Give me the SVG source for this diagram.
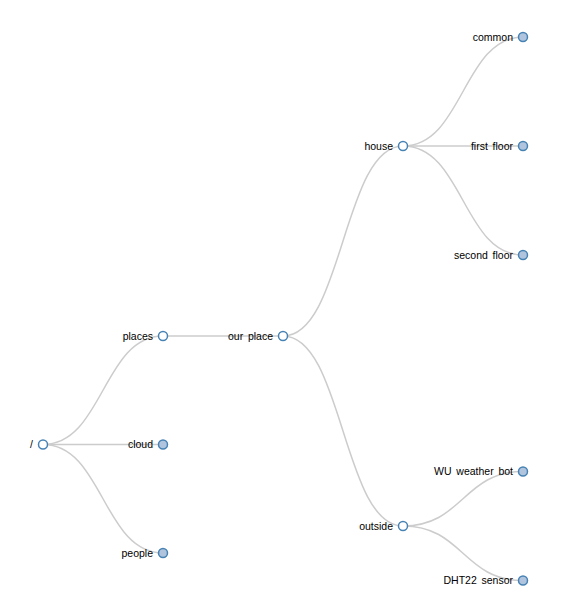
<svg xmlns="http://www.w3.org/2000/svg" width="563" height="599" viewBox="0 0 563 599">
<style>
.link{fill:none;stroke:#ccc;stroke-width:1.5}
.node circle{stroke:steelblue;stroke-width:1.5;fill:#fff}
.node.leaf circle{fill:lightsteelblue}
.node text{font-family:"Liberation Sans",Arial,sans-serif;font-size:10.5px;word-spacing:1.8px;fill:#000;text-anchor:end}
</style>
<rect width="563" height="599" fill="#fff"/>
<g id="links">
<path class="link" d="M43,444.5C103,444.5 103,336 163,336"/>
<path class="link" d="M43,444.5C103,444.5 103,444.5 163,444.5"/>
<path class="link" d="M43,444.5C103,444.5 103,553 163,553"/>
<path class="link" d="M163,336C223,336 223,336 283,336"/>
<path class="link" d="M283,336C343,336 343,146 403,146"/>
<path class="link" d="M283,336C343,336 343,526 403,526"/>
<path class="link" d="M403,146C463,146 463,37 523,37"/>
<path class="link" d="M403,146C463,146 463,146 523,146"/>
<path class="link" d="M403,146C463,146 463,255 523,255"/>
<path class="link" d="M403,526C463,526 463,471.5 523,471.5"/>
<path class="link" d="M403,526C463,526 463,580.5 523,580.5"/>
</g>
<g id="root" class="node" transform="translate(43,444.5)"><circle r="4.5"/><text x="-10" dy=".35em">/</text></g>
<g id="places" class="node" transform="translate(163,336)"><circle r="4.5"/><text x="-10" dy=".35em">places</text></g>
<g id="cloud" class="node leaf" transform="translate(163,444.5)"><circle r="4.5"/><text x="-10" dy=".35em">cloud</text></g>
<g id="people" class="node leaf" transform="translate(163,553)"><circle r="4.5"/><text x="-10" dy=".35em">people</text></g>
<g id="our-place" class="node" transform="translate(283,336)"><circle r="4.5"/><text x="-10" dy=".35em">our place</text></g>
<g id="house" class="node" transform="translate(403,146)"><circle r="4.5"/><text x="-10" dy=".35em">house</text></g>
<g id="outside" class="node" transform="translate(403,526)"><circle r="4.5"/><text x="-10" dy=".35em">outside</text></g>
<g id="common" class="node leaf" transform="translate(523,37)"><circle r="4.5"/><text x="-10" dy=".35em">common</text></g>
<g id="first-floor" class="node leaf" transform="translate(523,146)"><circle r="4.5"/><text x="-10" dy=".35em">first floor</text></g>
<g id="second-floor" class="node leaf" transform="translate(523,255)"><circle r="4.5"/><text x="-10" dy=".35em">second floor</text></g>
<g id="wu-weather-bot" class="node leaf" transform="translate(523,471.5)"><circle r="4.5"/><text x="-10" dy=".35em">WU weather bot</text></g>
<g id="dht22-sensor" class="node leaf" transform="translate(523,580.5)"><circle r="4.5"/><text x="-10" dy=".35em">DHT22 sensor</text></g>
</svg>
